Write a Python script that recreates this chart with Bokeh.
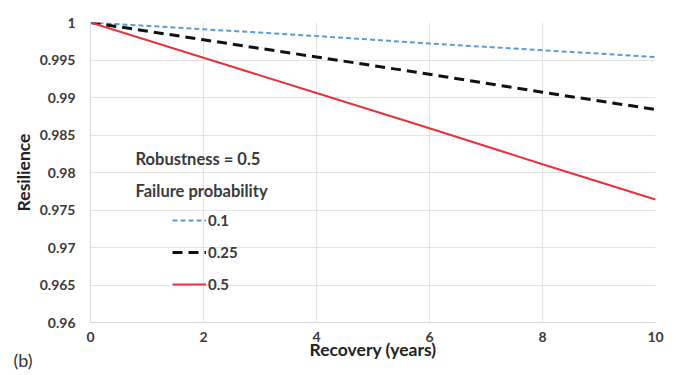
from bokeh.plotting import figure
from bokeh.models import Legend, LegendItem, Label, Range1d, FixedTicker
from bokeh.embed import file_html
from bokeh.resources import INLINE

# ---- data ----
recovery_years = [0, 2, 4, 6, 8, 10]
res_p01 = [1.0, 0.9991, 0.9982, 0.9972, 0.9963, 0.9954]
res_p025 = [1.0, 0.9977, 0.9954, 0.9931, 0.9907, 0.9884]
res_p05 = [1.0, 0.9953, 0.9906, 0.9859, 0.9811, 0.9764]
series_labels = ["0.1", "0.25", "0.5"]
y_ticks = [0.96, 0.965, 0.97, 0.975, 0.98, 0.985, 0.99, 0.995, 1.0]
y_tick_labels = ["0.96", "0.965", "0.97", "0.975", "0.98", "0.985", "0.99", "0.995", "1"]
x_ticks = [0, 2, 4, 6, 8, 10]
header_lines = ["Robustness = 0.5", "Failure probability"]
panel_tag = "(b)"

FONT = "Lato"
TXT = "#3a3a3a"

p = figure(width=667, height=372, output_backend="svg", toolbar_location=None,
           x_range=Range1d(0, 10), y_range=Range1d(0.96, 1.0),
           min_border_left=90, min_border_right=12, min_border_top=19, min_border_bottom=50)
p.outline_line_color = None
p.background_fill_color = "white"

r1 = p.line(recovery_years, res_p01, line_color="#5b9bd5", line_width=2, line_dash="5 3")
r2 = p.line(recovery_years, res_p025, line_color="#111111", line_width=3, line_dash="10 6")
r3 = p.line(recovery_years, res_p05, line_color="#e8323c", line_width=2)

# axes
p.xaxis.ticker = FixedTicker(ticks=x_ticks)
p.yaxis.ticker = FixedTicker(ticks=y_ticks)
p.yaxis.major_label_overrides = {t: l for t, l in zip(y_ticks, y_tick_labels)}
for ax in (p.xaxis, p.yaxis):
    ax.major_tick_line_color = None
    ax.minor_tick_line_color = None
    ax.axis_line_color = "#d9d9d9"
    ax.major_label_text_font = FONT
    ax.major_label_text_font_style = "bold"
    ax.major_label_text_font_size = "14px"
    ax.major_label_text_color = TXT
    ax.axis_label_text_font = FONT
    ax.axis_label_text_font_style = "bold"
    ax.axis_label_text_font_size = "17.5px"
    ax.axis_label_text_color = "#222222"
p.xaxis.major_label_standoff = 3
p.yaxis.major_label_standoff = 9
p.xaxis.axis_label = "Recovery (years)"
p.yaxis.axis_label = "Resilience"
p.xaxis.axis_label_standoff = -6
p.yaxis.axis_label_standoff = 3

p.xgrid.grid_line_color = "#e4e4e4"
p.ygrid.grid_line_color = "#e4e4e4"
p.xgrid.ticker = FixedTicker(ticks=x_ticks)
p.ygrid.ticker = FixedTicker(ticks=y_ticks)

# legend
legend = Legend(items=[LegendItem(label=series_labels[0], renderers=[r1]),
                       LegendItem(label=series_labels[1], renderers=[r2]),
                       LegendItem(label=series_labels[2], renderers=[r3])],
                location=(82, 28), orientation="vertical",
                glyph_width=34, glyph_height=20, label_height=20, label_standoff=2,
                spacing=12, padding=0, margin=0,
                border_line_color=None, background_fill_alpha=0,
                label_text_font=FONT, label_text_font_style="bold",
                label_text_font_size="15px", label_text_color=TXT)
p.add_layout(legend, "center")

p.add_layout(Label(x=45, y=164, x_units="screen", y_units="screen", text=header_lines[0],
                   text_font=FONT, text_font_style="bold", text_font_size="16.5px",
                   text_color=TXT, text_baseline="middle"))
p.add_layout(Label(x=45, y=132, x_units="screen", y_units="screen", text=header_lines[1],
                   text_font=FONT, text_font_style="bold", text_font_size="16.5px",
                   text_color=TXT, text_baseline="middle"))
# panel tag placed via the top side panel (side panels are not clipped to the frame)
p.add_layout(Label(x=-77, y=-337, x_units="screen", y_units="screen", text=panel_tag,
                   text_font=FONT, text_font_size="18px",
                   text_color="#333333", text_baseline="middle"), "above")

open("out.html", "w").write(file_html(p, INLINE))
